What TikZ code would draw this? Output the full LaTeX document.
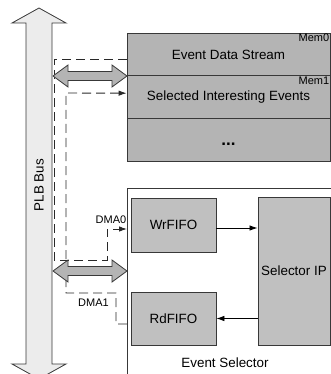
\documentclass[tikz,border=0pt]{standalone}
\usepackage{fontspec}
\setmainfont{Liberation Sans}
\usepackage{tikz}
\usetikzlibrary{arrows.meta, positioning, calc}
\definecolor{busgray}{RGB}{236,236,236}
\definecolor{memgray}{RGB}{180,180,180}
\definecolor{fifogray}{RGB}{192,192,192}
\definecolor{linegray}{RGB}{56,56,56}
\definecolor{dashgray}{RGB}{40,40,40}
\newcommand{\mainsize}{\fontsize{13.4}{16}\selectfont}
\newcommand{\smallsize}{\fontsize{11}{13}\selectfont}
\tikzset{
  memblock/.style={rectangle, draw=linegray, fill=memgray,
    minimum width=203pt, minimum height=42.7pt, inner sep=0pt,
    font=\mainsize, line width=0.8pt},
  fifo/.style={rectangle, draw=linegray, fill=fifogray,
    minimum width=85pt, minimum height=54pt,
    font=\mainsize, line width=0.8pt},
  memlabel/.style={font=\smallsize, inner sep=1pt},
  busarrow/.style={draw=linegray, fill=busgray, line width=0.8pt},
  dblarrow/.style={draw=linegray, fill=memgray, line width=0.8pt},
  arrow/.style={-{Latex[length=8pt,width=5.5pt]}, line width=0.8pt, color=black},
  dmaline/.style={-{Latex[length=8pt,width=5.5pt]}, line width=0.9pt,
    color=dashgray, dash pattern=on 9pt off 5pt}
}

\begin{document}
\begin{tikzpicture}[x=1pt, y=-1pt]
  \path[use as bounding box, clip] (0,0) rectangle (331,374);

  % PLB bus
  \draw[busarrow] (39,8) -- (66,23) -- (52,23) -- (52,364) -- (66,364) -- (39,379)
    -- (12,364) -- (26,364) -- (26,23) -- (12,23) -- cycle;
  \node[rotate=90, font=\mainsize] (buslabel) at (39,185) {PLB Bus};

  % Memory
  \node[memblock, label={[memlabel, anchor=north east]north east:Mem0}] (mem0) at (228.5,54.5) {Event Data Stream};
  \node[memblock, label={[memlabel, anchor=north east]north east:Mem1}] (mem1) at (228.5,97.2) {Selected Interesting Events};
  \node[memblock, text height=12pt, text depth=0pt] (memx) at (228.5,139.9) {\fontsize{17}{20}\selectfont\textbf{...}};

  % Event Selector
  \node[rectangle, draw=linegray, fill=white, line width=0.8pt,
    minimum width=209pt, minimum height=212pt] (evsel) at (231.5,294) {};
  \node[font=\mainsize] (evseltitle) at (225,363) {Event Selector};
  \node[fifo] (wrfifo) at (173.5,225) {WrFIFO};
  \node[fifo, minimum height=53pt] (rdfifo) at (173.5,318.5) {RdFIFO};
  \node[fifo, minimum width=72pt, minimum height=148pt] (selip) at (294,271) {Selector IP};
  \draw[arrow] ([yshift=-3pt]wrfifo.east) -- ([yshift=-3pt]wrfifo.east -| selip.west);
  \draw[arrow] (selip.west |- rdfifo.east) -- (rdfifo.east);

  % DMA channels
  \coordinate (dma0in) at (127,229);
  \coordinate (dma1out) at (127,324);
  \draw[dmaline] ([yshift=-4.5pt]mem0.west) -| (54,260) -| (107,229) -- (dma0in);
  \draw[dmaline] (dma1out) -| (116,293) -| (66,93) -- ([yshift=4pt]mem1.west);
  \node[memlabel] (dma0) at (111,220) {DMA0};
  \node[memlabel] (dma1) at (93.5,302.5) {DMA1};

  % bus links
  \foreach \y in {76,271}
    \draw[dblarrow] (53,\y) -- ++(15,-11) -- ++(0,6.5) -- ++(44,0) -- ++(0,-6.5)
      -- ++(15,11) -- ++(-15,11) -- ++(0,-6.5) -- ++(-44,0) -- ++(0,6.5) -- cycle;
\end{tikzpicture}
\end{document}
